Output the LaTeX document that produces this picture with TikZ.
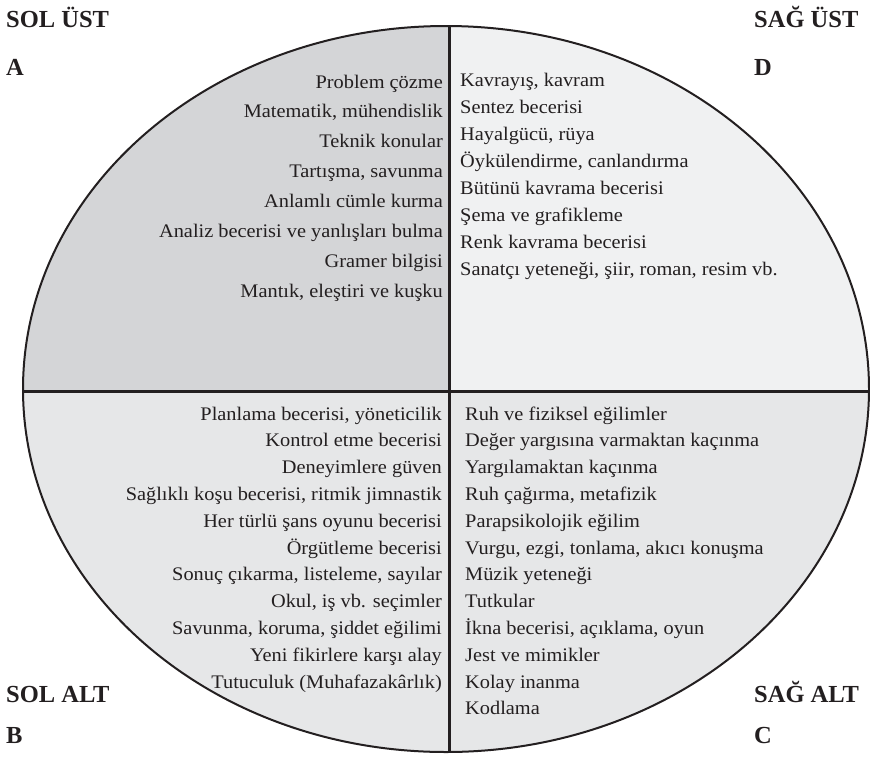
\documentclass[tikz,border=0pt]{standalone}
\usepackage{fontspec}
\setmainfont{Liberation Serif}[FakeStretch=1.06]
\newfontfamily\headfont{Liberation Serif}
\definecolor{ink}{HTML}{231F20}
\definecolor{tlfill}{HTML}{D4D5D7}
\definecolor{trfill}{HTML}{F0F1F2}
\definecolor{btfill}{HTML}{E6E7E8}
\begin{document}
\begin{tikzpicture}[x=1pt,y=-1pt,
  item/.style={inner sep=0pt, text=ink, font=\fontsize{19.2}{21}\selectfont},
  itemR/.style={item, anchor=base east},
  itemL/.style={item, anchor=base west},
  head/.style={inner sep=0pt, text=ink, anchor=base west, font=\headfont\bfseries\fontsize{24.5}{26}\selectfont},
  divider/.style={draw=ink, line width=3pt},
  rim/.style={draw=ink, line width=2pt}]
\useasboundingbox (0,0) rectangle (870,756);
\coordinate (ctr) at (446,389);
\begin{scope}
  \clip (ctr) ellipse [x radius=423pt, y radius=363pt];
  \fill[tlfill] (0,0) rectangle (449,391);
  \fill[trfill] (449,0) rectangle (870,391);
  \fill[btfill] (0,391) rectangle (870,756);
  \coordinate (vt) at (449,0);
  \coordinate (vb) at (449,756);
  \coordinate (hl) at (0,391);
  \coordinate (hr) at (870,391);
  \draw[divider] (vt) -- (vb);
  \draw[divider] (hl) -- (hr);
\end{scope}
\draw[rim] (ctr) ellipse [x radius=423pt, y radius=363pt];
% headings
\node[head] (solust) at (6,27) {SOL ÜST};
\node[head] (a) at (6,75) {A};
\node[head] (sagust) at (754,27) {SAĞ ÜST};
\node[head] (d) at (754,75) {D};
\node[head] (solalt) at (6,702) {SOL ALT};
\node[head] (b) at (6,743) {B};
\node[head] (sagalt) at (754,702) {SAĞ ALT};
\node[head] (c) at (754,743) {C};
% top left
\foreach \t [count=\i from 0] in {{Problem çözme},{Matematik, mühendislik},{Teknik konular},{Tartışma, savunma},{Anlamlı cümle kurma},{Analiz becerisi ve yanlışları bulma},{Gramer bilgisi},{Mantık, eleştiri ve kuşku}}
  \node[itemR] (tl\i) at (443,88+29.9*\i) {\t};
% top right
\foreach \t [count=\i from 0] in {{Kavrayış, kavram},{Sentez becerisi},{Hayalgücü, rüya},{Öykülendirme, canlandırma},{Bütünü kavrama becerisi},{Şema ve grafikleme},{Renk kavrama becerisi},{Sanatçı yeteneği, şiir, roman, resim vb.}}
  \node[itemL] (tr\i) at (460,86+27*\i) {\t};
% bottom left
\foreach \t [count=\i from 0] in {{Planlama becerisi, yöneticilik},{Kontrol etme becerisi},{Deneyimlere güven},{Sağlıklı koşu becerisi, ritmik jimnastik},{Her türlü şans oyunu becerisi},{Örgütleme becerisi},{Sonuç çıkarma, listeleme, sayılar},{Okul, iş vb. seçimler},{Savunma, koruma, şiddet eğilimi},{Yeni fikirlere karşı alay},{Tutuculuk (Muhafazakârlık)}}
  \node[itemR] (bl\i) at (442,420+26.8*\i) {\t};
% bottom right
\foreach \t [count=\i from 0] in {{Ruh ve fiziksel eğilimler},{Değer yargısına varmaktan kaçınma},{Yargılamaktan kaçınma},{Ruh çağırma, metafizik},{Parapsikolojik eğilim},{Vurgu, ezgi, tonlama, akıcı konuşma},{Müzik yeteneği},{Tutkular},{İkna becerisi, açıklama, oyun},{Jest ve mimikler},{Kolay inanma},{Kodlama}}
  \node[itemL] (br\i) at (465,420+26.8*\i) {\t};
\end{tikzpicture}
\end{document}
